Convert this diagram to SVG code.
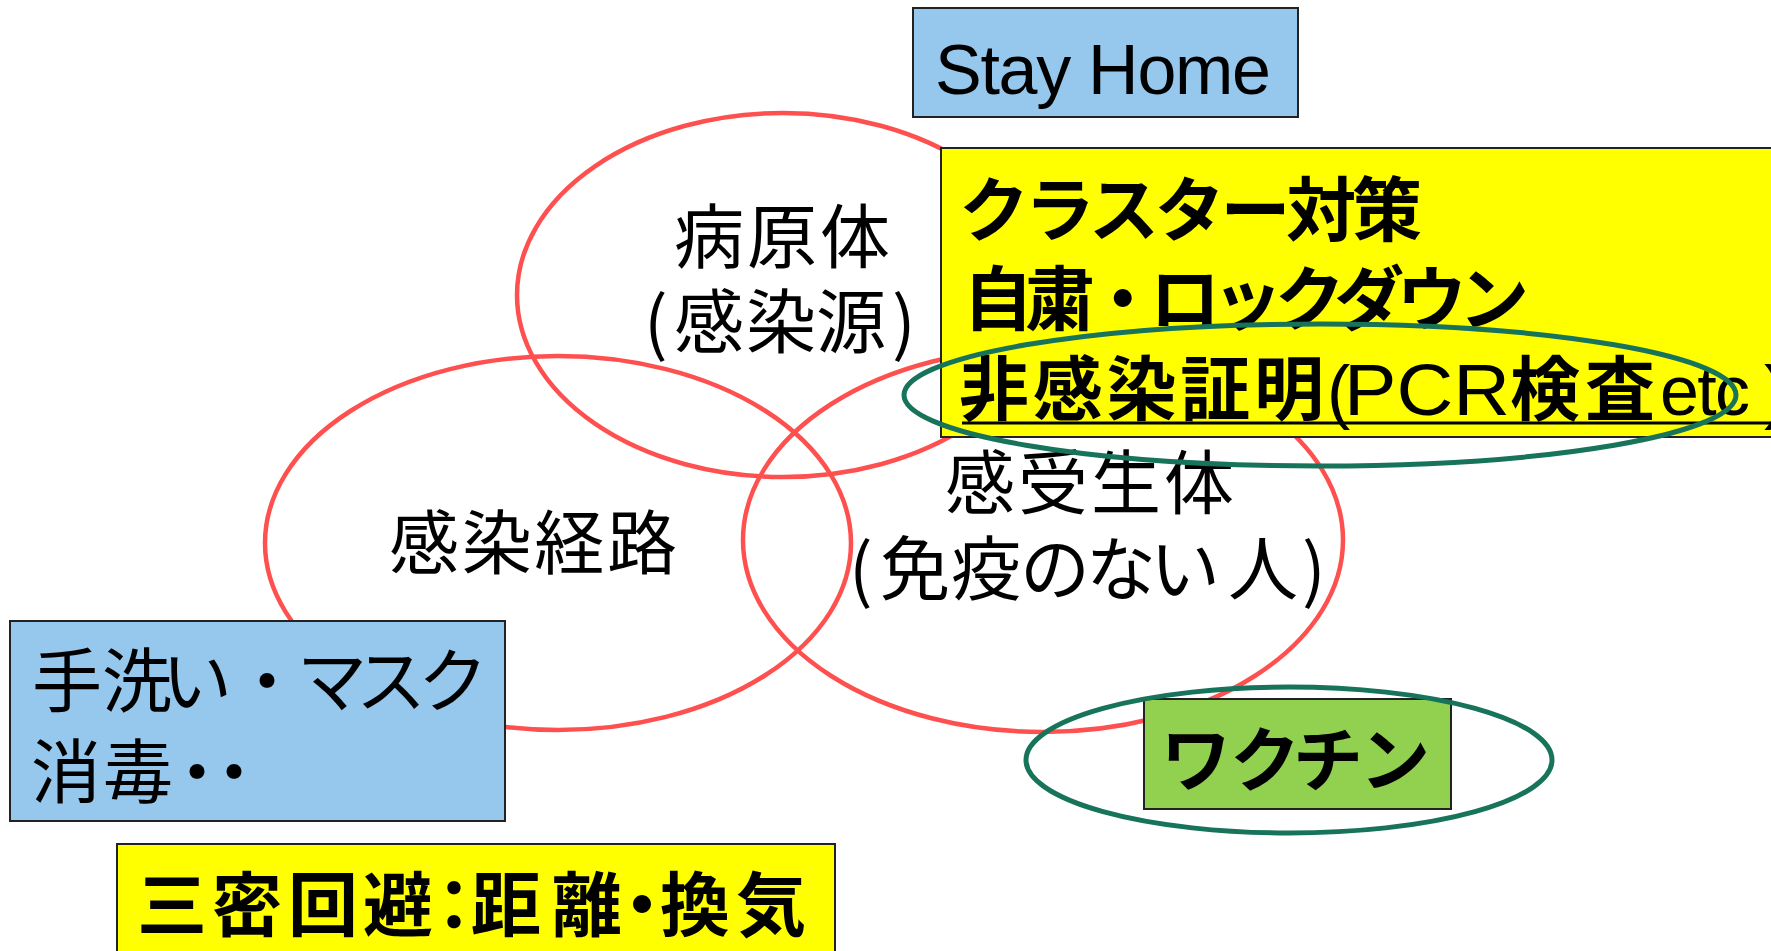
<svg xmlns="http://www.w3.org/2000/svg" width="1771" height="951" viewBox="0 0 1771 951">
<style>
.red{fill:none;stroke:#FF5050;stroke-width:4.5}
.grn{fill:none;stroke:#17735A;stroke-width:5}
.box{stroke:#222;stroke-width:2}
.blue{fill:#95C8EC}
.yel{fill:#FFFF00}
.lime{fill:#92D050}
.jp{font-family:"Noto Sans CJK JP","Noto Sans",sans-serif;font-size:70px;fill:#000}
.b{font-weight:700}
.en{font-family:"Liberation Sans",Arial,sans-serif;font-size:70px;fill:#000}
</style>
<rect width="1771" height="951" fill="#fff"/>
<g id="circles">
<g id="pathogen-circle"><ellipse class="red" cx="783" cy="295" rx="266" ry="182"/></g>
<g id="route-circle"><ellipse class="red" cx="558" cy="543" rx="293" ry="187"/></g>
<g id="host-circle"><ellipse class="red" cx="1043" cy="540" rx="300" ry="192"/></g>
</g>
<g id="stay-home">
<rect class="box blue" x="913" y="8" width="385" height="109"/>
<text class="en" x="935" y="94" textLength="336">Stay Home</text>
</g>
<g id="cluster-box">
<rect class="box yel" x="941" y="148" width="840" height="289"/>
<text class="jp b" x="959" y="236" textLength="463">クラスター対策</text>
<text class="jp b" x="963" y="325" textLength="566">自粛・ロックダウン</text>
<text class="en" y="415"><tspan class="jp b" x="959" textLength="365">非感染証明</tspan><tspan x="1327">(</tspan><tspan x="1344" style="font-size:72px" textLength="166" lengthAdjust="spacingAndGlyphs">PCR</tspan><tspan class="jp b" x="1510" textLength="145">検査</tspan><tspan x="1660" textLength="90">etc</tspan><tspan x="1764">)</tspan></text>
<line x1="962" y1="423" x2="1771" y2="423" stroke="#000" stroke-width="3"/>
</g>
<g id="hand-box">
<rect class="box blue" x="10" y="621" width="495" height="200"/>
<text class="jp" y="707" x="32 102 162 232 297 356 418">手洗い・マスク</text>
<text class="jp" y="798" x="31 103 162 199">消毒・・</text>
</g>
<g id="sanmitsu-box">
<rect class="box yel" x="117" y="844" width="718" height="120"/>
<text class="jp b" y="931" x="137 212 288 363 419 471 552 607 660 736">三密回避：距離・換気</text>
</g>
<g id="vaccine-box">
<rect class="box lime" x="1144" y="699" width="307" height="110"/>
<text class="jp b" y="786" x="1161 1230 1293 1360">ワクチン</text>
</g>
<g id="labels">
<text class="jp" x="674" y="263" textLength="216">病原体</text>
<text class="jp" y="348" x="644 674 746 816 892">(感染源)</text>
<text class="jp" x="389" y="569" textLength="288">感染経路</text>
<text class="jp" x="945" y="509" textLength="289">感受生体</text>
<text class="jp" y="595" x="849 880 951 1020 1086 1150 1228 1302">(免疫のない人)</text>
</g>
<g id="highlights">
<ellipse class="grn" cx="1320" cy="395" rx="416" ry="71"/>
<ellipse class="grn" cx="1289" cy="760" rx="263" ry="73"/>
</g>
</svg>
